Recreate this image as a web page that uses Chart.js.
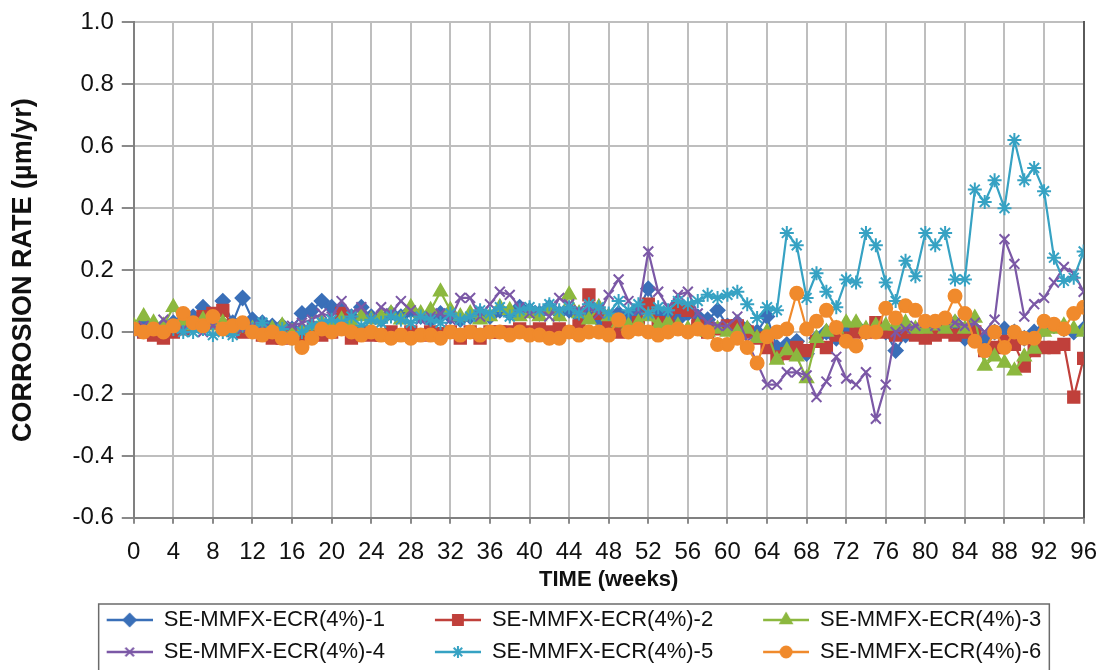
<!DOCTYPE html>
<html>
<head>
<meta charset="utf-8">
<script src="https://cdn.jsdelivr.net/npm/chart.js@4.4.1/dist/chart.umd.min.js"></script>
<style>
  html, body { margin: 0; padding: 0; background: #fff; }
  #wrap { width: 1111px; height: 670px; }
</style>
</head>
<body>
<div id="wrap"><canvas id="rateChart"></canvas></div>
<script>
// corrosion rate vs time, 6 specimens

const weeks = [0,1,2,3,4,5,6,7,8,9,10,11,12,13,14,15,16,17,18,19,20,21,22,23,24,25,26,27,28,29,
  30,31,32,33,34,35,36,37,38,39,40,41,42,43,44,45,46,47,48,49,50,51,52,53,54,55,56,57,58,59,
  60,61,62,63,64,65,66,67,68,69,70,71,72,73,74,75,76,77,78,79,80,81,82,83,84,85,86,87,88,89,
  90,91,92,93,94,95,96];

const seriesNames = ['SE-MMFX-ECR(4%)-1','SE-MMFX-ECR(4%)-2','SE-MMFX-ECR(4%)-3',
  'SE-MMFX-ECR(4%)-4','SE-MMFX-ECR(4%)-5','SE-MMFX-ECR(4%)-6'];

const s1 = [0.01,0.02,0.01,0.02,0.03,0.04,0.05,0.08,0.05,0.10,
  0.03,0.11,0.04,0.03,0.02,0.02,0.01,0.06,0.07,0.10,
  0.08,0.07,0.05,0.08,0.05,0.04,0.06,0.05,0.07,0.05,
  0.04,0.06,0.05,0.04,0.05,0.06,0.05,0.07,0.06,0.08,
  0.07,0.06,0.08,0.06,0.07,0.05,0.06,0.04,0.05,0.06,
  0.05,0.07,0.14,0.06,0.05,0.04,0.06,0.05,0.04,0.07,
  0.02,0.03,0.01,0.00,0.05,-0.05,-0.04,-0.03,-0.07,-0.02,
  0.00,-0.02,0.00,0.02,0.00,0.01,0.00,-0.06,-0.01,0.00,
  0.01,0.00,0.02,0.03,-0.02,0.01,-0.02,0.00,0.01,0.00,
  -0.02,0.00,0.01,0.02,0.01,0.00,0.01];

const s2 = [0.01,0.00,-0.01,-0.02,0.00,0.01,0.02,0.05,0.06,0.07,
  0.02,0.00,0.01,-0.01,-0.02,-0.02,-0.01,-0.02,0.00,-0.01,
  0.00,0.06,-0.02,0.00,-0.01,-0.01,0.00,-0.01,0.00,-0.01,
  0.00,-0.005,0.00,-0.02,0.00,-0.02,0.00,0.00,0.00,0.01,
  0.00,0.01,0.00,0.01,0.00,0.02,0.12,0.06,0.02,0.00,
  0.01,0.03,0.09,0.03,0.02,0.08,0.07,0.02,0.00,0.01,
  0.02,0.02,0.00,-0.02,-0.05,-0.08,-0.07,-0.05,-0.06,-0.03,
  -0.05,-0.01,-0.02,0.00,0.00,0.03,0.00,-0.01,0.00,-0.01,
  -0.02,-0.01,0.00,-0.01,0.00,0.00,-0.06,-0.05,-0.03,-0.04,
  -0.11,-0.06,-0.05,-0.05,-0.04,-0.21,-0.085];

const s3 = [0.02,0.05,0.03,0.02,0.08,0.03,0.02,0.04,0.02,0.03,
  0.01,0.02,0.01,0.00,0.01,0.02,0.00,0.01,0.02,0.03,
  0.02,0.04,0.03,0.05,0.04,0.05,0.06,0.04,0.08,0.06,
  0.07,0.13,0.07,0.05,0.06,0.04,0.05,0.08,0.07,0.05,
  0.06,0.05,0.07,0.05,0.12,0.06,0.04,0.08,0.05,0.03,
  0.02,0.03,0.05,0.02,0.03,0.02,0.01,0.02,0.00,0.01,
  0.00,0.00,0.01,-0.02,0.00,-0.09,-0.06,-0.08,-0.15,-0.02,
  0.00,0.01,0.03,0.03,0.01,0.02,0.02,0.02,0.03,0.01,
  0.01,0.02,0.01,0.03,0.01,0.045,-0.11,-0.08,-0.10,-0.125,
  -0.08,-0.055,0.00,0.01,0.02,0.01,0.00];

const s4 = [0.00,0.02,0.01,0.04,0.02,0.01,0.03,0.00,0.02,0.01,
  0.00,0.01,0.02,0.01,0.00,0.01,0.02,0.03,0.04,0.06,
  0.05,0.10,0.06,0.08,0.04,0.08,0.06,0.10,0.07,0.04,
  0.05,0.06,0.04,0.11,0.11,0.05,0.09,0.13,0.12,0.08,
  0.06,0.07,0.05,0.11,0.09,0.07,0.08,0.06,0.12,0.17,
  0.10,0.07,0.26,0.13,0.08,0.12,0.13,0.06,0.03,0.02,
  0.02,0.05,-0.03,-0.10,-0.17,-0.17,-0.13,-0.13,-0.14,-0.21,
  -0.16,-0.08,-0.15,-0.17,-0.13,-0.28,-0.17,0.00,0.01,0.02,
  0.03,0.02,0.04,0.03,0.02,0.03,0.00,0.04,0.30,0.22,
  0.05,0.09,0.11,0.16,0.21,0.19,0.13];

const s5 = [0.01,0.00,0.01,0.00,0.01,0.00,0.00,0.01,-0.01,0.00,
  -0.01,0.02,0.01,0.03,0.00,0.01,-0.02,0.00,0.02,0.03,
  0.04,0.03,0.05,0.02,0.04,0.03,0.05,0.04,0.03,0.05,
  0.04,0.03,0.06,0.04,0.05,0.07,0.06,0.08,0.05,0.07,
  0.08,0.07,0.09,0.07,0.08,0.06,0.09,0.08,0.06,0.10,
  0.07,0.09,0.06,0.08,0.07,0.10,0.09,0.10,0.12,0.11,
  0.12,0.13,0.09,0.045,0.08,0.07,0.32,0.28,0.11,0.19,
  0.13,0.08,0.17,0.16,0.32,0.28,0.16,0.10,0.23,0.18,
  0.32,0.28,0.32,0.17,0.17,0.46,0.42,0.49,0.40,0.62,
  0.49,0.53,0.455,0.24,0.165,0.175,0.26];

const s6 = [0.01,0.00,0.01,0.00,0.02,0.06,0.03,0.02,0.05,0.01,
  0.02,0.03,0.00,-0.01,0.00,-0.02,-0.02,-0.05,-0.02,0.01,
  0.00,0.01,0.00,-0.01,0.00,-0.01,-0.02,-0.01,-0.02,-0.01,
  -0.01,-0.02,0.00,-0.01,0.00,-0.01,0.00,0.00,-0.01,0.00,
  -0.01,-0.01,-0.02,-0.02,0.00,-0.01,0.00,0.00,-0.01,0.04,
  0.00,0.01,0.00,-0.01,0.00,0.01,0.00,0.01,0.00,-0.04,
  -0.04,-0.02,-0.05,-0.10,-0.015,0.00,0.01,0.125,0.01,0.035,
  0.07,0.015,-0.03,-0.045,0.00,0.00,0.077,0.045,0.085,0.07,
  0.035,0.035,0.045,0.116,0.06,-0.03,-0.06,0.00,-0.05,0.00,
  -0.02,-0.02,0.035,0.025,0.01,0.06,0.08];

const yTicks = [-0.6,-0.4,-0.2,0.0,0.2,0.4,0.6,0.8,1.0];

const allSeries = [s1, s2, s3, s4, s5, s6];
const colors = ['#3A6FB8', '#C0403B', '#8CB83F', '#7B58A6', '#36A2C3', '#F08A2C'];
const markers = ['rectRot', 'rect', 'triangle', 'crossRot', 'star', 'circle'];
const markerSize = [7, 8, 7.5, 7, 7, 6.5];

const FONT = "'Liberation Sans', Arial, sans-serif";

// little line+marker pictures for the legend
function legendIcon(i) {
    const c = document.createElement('canvas');
    c.width = 86;
    c.height = 22;
    const ctx = c.getContext('2d');
    ctx.strokeStyle = colors[i];
    ctx.lineWidth = 2.5;
    ctx.beginPath();
    ctx.moveTo(40, 11);
    ctx.lineTo(86, 11);
    ctx.stroke();
    ctx.fillStyle = colors[i];
    ctx.lineWidth = 2;
    Chart.helpers.drawPoint(ctx, {pointStyle: markers[i], radius: markerSize[i] - 1, borderWidth: 2}, 63, 11);
    return c;
}
const icons = colors.map((c, i) => legendIcon(i));

const datasets = allSeries.map((vals, i) => ({
    label: seriesNames[i],
    data: vals.map((v, k) => ({x: weeks[k], y: v})),
    borderColor: colors[i],
    backgroundColor: colors[i],
    pointBackgroundColor: colors[i],
    pointBorderColor: colors[i],
    pointStyle: markers[i],
    pointRadius: markerSize[i],
    pointBorderWidth: 2,
    borderWidth: 2.2,
    tension: 0,
    order: 6 - i
}));

// box round the legend, like the excel one
const legendFrame = {
    id: 'legendFrame',
    afterDraw(chart) {
        const boxes = chart.legend && chart.legend.legendHitBoxes;
        if (!boxes || !boxes.length) return;
        let l = Infinity, r = -Infinity, t = Infinity, b = -Infinity;
        boxes.forEach(h => {
            l = Math.min(l, h.left);
            r = Math.max(r, h.left + h.width);
            t = Math.min(t, h.top);
            b = Math.max(b, h.top + h.height);
        });
        const ctx = chart.ctx;
        ctx.save();
        ctx.strokeStyle = '#6b6b6b';
        ctx.lineWidth = 1.5;
        ctx.strokeRect(l + 32, t - 5, (r + 8) - (l + 32), (b + 9) - (t - 5));
        ctx.restore();
    }
};

const rateChart = new Chart(document.getElementById('rateChart'), {
    type: 'line',
    data: { datasets: datasets },
    plugins: [legendFrame],
    options: {
        responsive: true,
        maintainAspectRatio: false,
        animation: false,
        layout: { padding: { top: 10, right: 10, left: 7, bottom: -3 } },
        scales: {
            x: {
                type: 'linear',
                min: 0,
                max: 96,
                ticks: { stepSize: 4, color: '#111', padding: 14, font: { family: FONT, size: 24 } },
                grid: { color: '#BEBEBE', lineWidth: 2, tickLength: 6, tickColor: '#8a8a8a' },
                border: { color: '#808080', width: 2 },
                title: {
                    display: true,
                    text: 'TIME (weeks)',
                    color: '#111',
                    font: { family: FONT, size: 22, weight: 'bold' },
                    padding: { top: -14, bottom: 6 }
                }
            },
            y: {
                min: -0.6,
                max: 1.0,
                afterBuildTicks: axis => { axis.ticks = yTicks.map(v => ({value: v})); },
                ticks: {
                    color: '#111',
                    padding: 8,
                    font: { family: FONT, size: 24 },
                    callback: v => (Math.abs(v) < 1e-9 ? 0 : v).toFixed(1)
                },
                grid: { color: '#BEBEBE', lineWidth: 2, tickLength: 12, tickColor: '#8a8a8a' },
                border: { color: '#808080', width: 2 },
                title: {
                    display: true,
                    text: 'CORROSION RATE (µm/yr)',
                    color: '#111',
                    font: { family: FONT, size: 27, weight: 'bold' },
                    padding: { top: 0, bottom: 25 }
                }
            },
            yRight: {
                position: 'right',
                min: -0.6,
                max: 1.0,
                ticks: { display: false },
                grid: { drawOnChartArea: false, drawTicks: false },
                border: { color: '#5a5a5a', width: 2 }
            }
        },
        plugins: {
            legend: {
                display: true,
                position: 'bottom',
                labels: {
                    usePointStyle: true,
                    pointStyleWidth: 86,
                    padding: 10,
                    color: '#111',
                    font: { family: FONT, size: 22 },
                    generateLabels: chart => chart.data.datasets.map((ds, i) => ({
                        text: ds.label,
                        pointStyle: icons[i],
                        fillStyle: colors[i],
                        strokeStyle: colors[i],
                        lineWidth: 0,
                        hidden: false,
                        datasetIndex: i,
                        fontColor: '#111'
                    }))
                }
            },
            tooltip: { enabled: false }
        }
    }
});
</script>
</body>
</html>
